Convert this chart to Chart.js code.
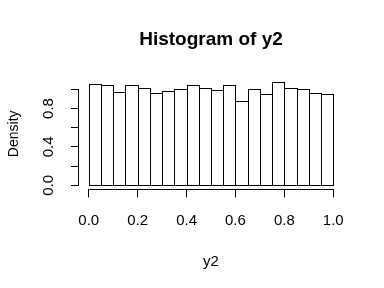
<!DOCTYPE html>
<html>
<head>
<meta charset="utf-8">
<script src="https://cdn.jsdelivr.net/npm/chart.js@4.4.1/dist/chart.umd.min.js"></script>
<style>
  html, body { margin: 0; padding: 0; background: #fff; }
  #wrap { width: 384px; height: 288px; }
</style>
</head>
<body>
<div id="wrap"><canvas id="hist"></canvas></div>
<script>
// histogram bins: breaks every 0.05 from 0 to 1, values are densities
const binMids = [0.025, 0.075, 0.125, 0.175, 0.225, 0.275, 0.325, 0.375, 0.425, 0.475,
                 0.525, 0.575, 0.625, 0.675, 0.725, 0.775, 0.825, 0.875, 0.925, 0.975];
const density = [1.052, 1.045, 0.969, 1.042, 1.010, 0.958, 0.979, 1.000, 1.042, 1.010,
                 0.990, 1.042, 0.875, 1.000, 0.948, 1.073, 1.010, 1.000, 0.958, 0.948];

const xTicks = [0, 0.2, 0.4, 0.6, 0.8, 1.0];
const xTickLabels = ["0.0", "0.2", "0.4", "0.6", "0.8", "1.0"];
const yTicks = [0, 0.2, 0.4, 0.6, 0.8, 1.0];
const yTickLabels = ["0.0", "", "0.4", "", "0.8", ""];

Chart.defaults.font.family = "'Liberation Sans', Arial, sans-serif";
Chart.defaults.color = "#000";

const crisp = v => Math.round(v) + 0.5;

// R style axis lines: only span the first to the last tick
const axisLines = {
    id: "axisLines",
    afterDraw(chart) {
        const { ctx, chartArea, scales } = chart;
        const x = scales.x, y = scales.y;
        ctx.save();
        ctx.strokeStyle = "#000";
        ctx.lineWidth = 1;
        ctx.beginPath();
        const by = crisp(chartArea.bottom);
        ctx.moveTo(crisp(x.getPixelForValue(xTicks[0])), by);
        ctx.lineTo(crisp(x.getPixelForValue(xTicks[xTicks.length - 1])), by);
        const lx = Math.round(chartArea.left) - 0.5;
        ctx.moveTo(lx, crisp(y.getPixelForValue(yTicks[0])));
        ctx.lineTo(lx, crisp(y.getPixelForValue(yTicks[yTicks.length - 1])));
        ctx.stroke();
        ctx.restore();
    }
};

// sharp 1px outlines around the bar elements (snapped to the pixel grid)
const barOutlines = {
    id: "barOutlines",
    afterDatasetsDraw(chart) {
        const { ctx } = chart;
        ctx.save();
        ctx.strokeStyle = "#000";
        ctx.lineWidth = 1;
        chart.getDatasetMeta(0).data.forEach(bar => {
            const p = bar.getProps(["x", "y", "base", "width"], true);
            const l = crisp(p.x - p.width / 2), r = crisp(p.x + p.width / 2);
            const t = crisp(p.y), b = crisp(p.base);
            ctx.strokeRect(l, t, r - l, b - t);
        });
        ctx.restore();
    }
};

new Chart(document.getElementById("hist"), {
    type: "bar",
    data: {
        datasets: [{
            data: binMids.map((m, i) => ({ x: m, y: density[i] })),
            backgroundColor: "#fff",
            borderWidth: 0,
            barPercentage: 1,
            categoryPercentage: 1,
            inflateAmount: 0
        }]
    },
    options: {
        responsive: true,
        maintainAspectRatio: false,
        animation: false,
        devicePixelRatio: 1,
        layout: { padding: { left: 0, right: 41, top: 0, bottom: 0 } },
        plugins: {
            legend: { display: false },
            tooltip: { enabled: false },
            title: {
                display: true,
                fullSize: false,
                text: "Histogram of y2",
                font: { size: 19, weight: "bold" },
                padding: { top: 28, bottom: 27.4 }
            }
        },
        scales: {
            x: {
                type: "linear",
                offset: false,
                min: -0.04,
                max: 1.04,
                afterBuildTicks: s => { s.ticks = xTicks.map(v => ({ value: v })); },
                afterFit: s => { s.height = 98.6; s.paddingLeft = 0; s.paddingRight = 0; },
                grid: { display: true, offset: false, drawOnChartArea: false, drawTicks: true, tickLength: 8, color: "#000" },
                border: { display: false },
                ticks: {
                    autoSkip: false, maxRotation: 0,
                    font: { size: 15 }, padding: 14,
                    callback: (v, i) => xTickLabels[i]
                },
                title: { display: true, text: "y2", font: { size: 15 }, padding: { top: 0, bottom: 17 } }
            },
            y: {
                min: -0.043,
                max: 1.116,
                afterBuildTicks: s => { s.ticks = yTicks.map(v => ({ value: v })); },
                afterFit: s => { s.width = 79; s.paddingTop = 0; s.paddingBottom = 0; },
                grid: { display: true, drawOnChartArea: false, drawTicks: true, tickLength: 8, color: "#000" },
                border: { display: false },
                ticks: {
                    autoSkip: false, minRotation: 90, maxRotation: 90, crossAlign: "center",
                    font: { size: 15 }, padding: 12,
                    callback: (v, i) => yTickLabels[i]
                },
                title: { display: true, text: "Density", font: { size: 14 }, padding: { top: 6, bottom: 0 } }
            }
        }
    },
    plugins: [barOutlines, axisLines]
});
</script>
</body>
</html>
